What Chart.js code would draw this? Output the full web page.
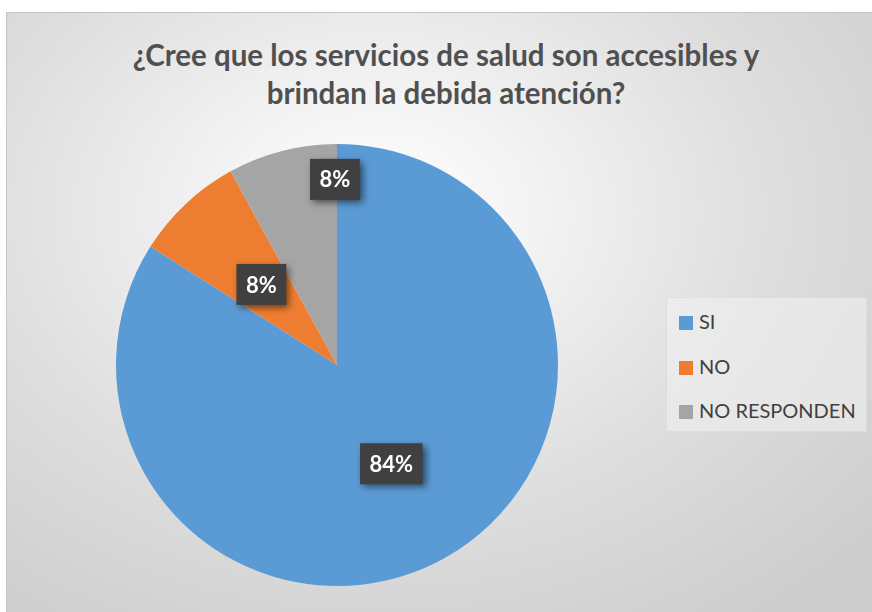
<!DOCTYPE html>
<html>
<head>
<meta charset="utf-8">
<script src="https://cdn.jsdelivr.net/npm/chart.js@4/dist/chart.umd.min.js"></script>
<style>
	html, body { margin: 0; padding: 0; background: #fff; }
	#wrap { position: relative; width: 872px; height: 612px; overflow: hidden; }
	#panel {
		position: absolute; left: 6px; top: 12px; width: 880px; height: 620px;
		border-top: 1px solid #c4c4c4; border-left: 1px solid #c4c4c4;
		background: radial-gradient(ellipse 75% 80% at 42% 32%, #ffffff 0%, #f4f4f4 22%, #dedede 60%, #cdcdcd 100%);
	}
	#title {
		position: absolute; left: 0; width: 892px; top: 36px; text-align: center;
		font-family: Lato, sans-serif; font-weight: bold; font-size: 29.5px; line-height: 38px;
		color: #505050;
	}
	#legend {
		position: absolute; left: 666px; top: 297px; width: 201px; height: 135px;
		background: rgba(242, 242, 242, 0.55); box-sizing: border-box;
		border: 1px solid rgba(200, 200, 200, 0.35);
	}
	.item { position: absolute; left: 12px; height: 24px; font-family: Lato, sans-serif; font-size: 20px; color: #404040; line-height: 24px; }
	.item span.sw { display: inline-block; width: 14px; height: 14px; margin-right: 6px; vertical-align: -1px; }
	canvas { position: absolute; left: 0; top: 0; }
</style>
</head>
<body>
<div id="wrap">
	<div id="panel"></div>
	<div id="title">¿Cree que los servicios de salud son accesibles y<br>brindan la debida atención?</div>
	<div id="legend"></div>
	<canvas id="chart" width="872" height="612"></canvas>
</div>
<script>
const categories = ['SI', 'NO', 'NO RESPONDEN'];
const percents = [84, 8, 8];
const colors = ['#5b9bd5', '#ed7d31', '#a5a5a5'];

// where each label sits: fraction of radius, and a small angle nudge (radians)
const labelSpots = [
	{ r: 0.51, nudge: 0 },
	{ r: 0.50, nudge: 0 },
	{ r: 0.84, nudge: 0.24 }
];

// html legend
const legendEl = document.getElementById('legend');
categories.forEach((name, i) => {
	const row = document.createElement('div');
	row.className = 'item';
	row.style.top = (11 + i * 44.5) + 'px';
	row.innerHTML = '<span class="sw" style="background:' + colors[i] + '"></span>' + name;
	legendEl.appendChild(row);
});

const boxLabels = {
	id: 'boxLabels',
	afterDatasetsDraw(chart) {
		const ctx = chart.ctx;
		const arcs = chart.getDatasetMeta(0).data;
		ctx.save();
		ctx.font = 'bold 22px Lato, sans-serif';
		ctx.textAlign = 'center';
		ctx.textBaseline = 'middle';
		arcs.forEach((arc, i) => {
			const p = arc.getProps(['x', 'y', 'startAngle', 'endAngle', 'outerRadius'], true);
			const mid = (p.startAngle + p.endAngle) / 2 + labelSpots[i].nudge;
			const d = p.outerRadius * labelSpots[i].r;
			const x = p.x + Math.cos(mid) * d;
			const y = p.y + Math.sin(mid) * d;
			const text = percents[i] + '%';
			const w = ctx.measureText(text).width + 19;
			const h = 41;
			ctx.save();
			ctx.shadowColor = 'rgba(0,0,0,0.55)';
			ctx.shadowBlur = 7;
			ctx.shadowOffsetX = 3;
			ctx.shadowOffsetY = 3;
			ctx.fillStyle = '#404040';
			ctx.fillRect(x - w / 2, y - h / 2, w, h);
			ctx.restore();
			ctx.fillStyle = '#ffffff';
			ctx.fillText(text, x, y + 1);
		});
		ctx.restore();
	}
};

new Chart(document.getElementById('chart'), {
	type: 'pie',
	data: {
		labels: categories,
		datasets: [{
			data: percents,
			backgroundColor: colors,
			borderWidth: 0
		}]
	},
	options: {
		responsive: false,
		animation: false,
		layout: { padding: { left: 116, top: 144, right: 314, bottom: 26 } },
		plugins: {
			legend: { display: false },
			title: { display: false },
			tooltip: { enabled: false }
		}
	},
	plugins: [boxLabels]
});
</script>
</body>
</html>
